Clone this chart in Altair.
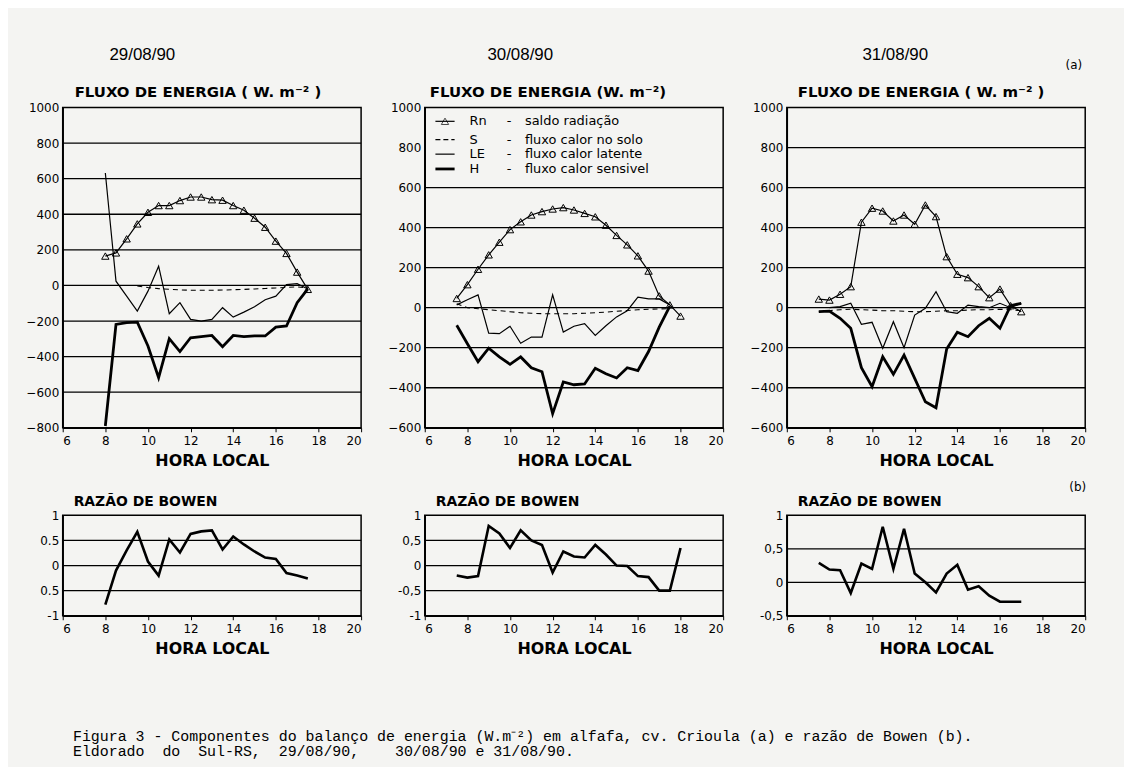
import altair as alt
import pandas as pd

# ---------------- data ----------------
DATES = ["29/08/90", "30/08/90", "31/08/90"]

# 29/08/90
h1_rn = [8.0, 8.5, 9.0, 9.5, 10.0, 10.5, 11.0, 11.5, 12.0, 12.5, 13.0, 13.5, 14.0, 14.5, 15.0, 15.5, 16.0, 16.5, 17.0, 17.5]
rn1 = [165, 183, 262, 346, 411, 449, 449, 477, 497, 497, 482, 479, 449, 423, 378, 327, 249, 180, 75, -22]
h1_s = [9.5, 10.0, 10.5, 11.0, 11.5, 12.0, 12.5, 13.0, 13.5, 14.0, 14.5, 15.0, 15.5, 16.0, 16.5, 17.0, 17.5]
s1 = [-3, -12, -18, -22, -25, -27, -27, -27, -26, -24, -22, -20, -17, -14, -11, -8, -15]
h1_le = [8.0, 8.5, 9.0, 9.5, 10.0, 10.5, 11.0, 11.5, 12.0, 12.5, 13.0, 13.5, 14.0, 14.5, 15.0, 15.5, 16.0, 16.5, 17.0, 17.5]
le1 = [632, 24, -60, -144, -32, 108, -159, -97, -191, -200, -191, -125, -178, -150, -120, -80, -60, 5, 10, -20]
h1_h = [8.0, 8.5, 9.0, 9.5, 10.0, 10.5, 11.0, 11.5, 12.0, 12.5, 13.0, 13.5, 14.0, 14.5, 15.0, 15.5, 16.0, 16.5, 17.0, 17.5]
hh1 = [-790, -219, -209, -206, -340, -518, -299, -372, -294, -288, -281, -344, -281, -288, -284, -284, -234, -228, -97, -19]

# 30/08/90
h2_rn = [7.5, 8.0, 8.5, 9.0, 9.5, 10.0, 10.5, 11.0, 11.5, 12.0, 12.5, 13.0, 13.5, 14.0, 14.5, 15.0, 15.5, 16.0, 16.5, 17.0, 17.5, 18.0]
rn2 = [46, 115, 192, 264, 327, 390, 429, 463, 480, 493, 500, 488, 471, 454, 412, 361, 314, 259, 183, 59, 14, -42]
h2_s = [7.5, 8.0, 8.5, 9.0, 9.5, 10.0, 10.5, 11.0, 11.5, 12.0, 12.5, 13.0, 13.5, 14.0, 14.5, 15.0, 15.5, 16.0, 16.5, 17.0, 17.5]
s2 = [20, 0, -5, -10, -15, -20, -25, -28, -30, -30, -30, -30, -28, -25, -22, -18, -14, -10, -8, -6, -5]
h2_le = [7.5, 8.0, 8.5, 9.0, 9.5, 10.0, 10.5, 11.0, 11.5, 12.0, 12.5, 13.0, 13.5, 14.0, 14.5, 15.0, 15.5, 16.0, 16.5, 17.0, 17.5]
le2 = [14, 40, 64, -127, -130, -93, -178, -147, -147, 64, -122, -93, -80, -139, -90, -46, -15, 53, 44, 44, 14]
h2_h = [7.5, 8.0, 8.5, 9.0, 9.5, 10.0, 10.5, 11.0, 11.5, 12.0, 12.5, 13.0, 13.5, 14.0, 14.5, 15.0, 15.5, 16.0, 16.5, 17.0, 17.5]
hh2 = [-88, -180, -270, -202, -246, -283, -246, -300, -320, -529, -371, -385, -381, -303, -330, -351, -300, -314, -219, -97, 8]

# 31/08/90
h3_rn = [7.5, 8.0, 8.5, 9.0, 9.5, 10.0, 10.5, 11.0, 11.5, 12.0, 12.5, 13.0, 13.5, 14.0, 14.5, 15.0, 15.5, 16.0, 16.5, 17.0]
rn3 = [43, 38, 67, 105, 427, 497, 483, 433, 463, 417, 513, 455, 255, 167, 150, 105, 50, 93, 10, -20]
h3_s = [7.5, 8.0, 8.5, 9.0, 9.5, 10.0, 10.5, 11.0, 11.5, 12.0, 12.5, 13.0, 13.5, 14.0, 14.5, 15.0, 15.5, 16.0, 16.5, 17.0]
s3 = [-20, -15, -10, -8, -10, -12, -15, -15, -18, -20, -20, -18, -15, -15, -12, -10, -10, -8, -10, -15]
h3_le = [8.0, 8.5, 9.0, 9.5, 10.0, 10.5, 11.0, 11.5, 12.0, 12.5, 13.0, 13.5, 14.0, 14.5, 15.0, 15.5, 16.0, 16.5, 17.0]
le3 = [0, 5, 22, -83, -73, -203, -70, -200, -37, -3, 80, -20, -28, 13, 5, 0, 22, 0, 22]
h3_h = [7.5, 8.0, 8.5, 9.0, 9.5, 10.0, 10.5, 11.0, 11.5, 12.0, 12.5, 13.0, 13.5, 14.0, 14.5, 15.0, 15.5, 16.0, 16.5, 17.0]
hh3 = [-20, -17, -53, -103, -300, -395, -245, -333, -237, -353, -470, -500, -207, -123, -145, -90, -53, -103, 10, 22]

# Bowen ratio
b1_h = [8.0, 8.5, 9.0, 9.5, 10.0, 10.5, 11.0, 11.5, 12.0, 12.5, 13.0, 13.5, 14.0, 14.5, 15.0, 15.5, 16.0, 16.5, 17.0, 17.5]
b1 = [-0.78, -0.1, 0.3, 0.67, 0.08, -0.2, 0.52, 0.26, 0.63, 0.68, 0.7, 0.32, 0.58, 0.42, 0.28, 0.16, 0.13, -0.15, -0.2, -0.26]
b2_h = [7.5, 8.0, 8.5, 9.0, 9.5, 10.0, 10.5, 11.0, 11.5, 12.0, 12.5, 13.0, 13.5, 14.0, 14.5, 15.0, 15.5, 16.0, 16.5, 17.0, 17.5, 18.0]
b2 = [-0.2, -0.24, -0.21, 0.79, 0.64, 0.35, 0.7, 0.5, 0.41, -0.14, 0.28, 0.18, 0.16, 0.41, 0.22, 0.0, -0.01, -0.21, -0.23, -0.5, -0.5, 0.35]
b3_h = [7.5, 8.0, 8.5, 9.0, 9.5, 10.0, 10.5, 11.0, 11.5, 12.0, 12.5, 13.0, 13.5, 14.0, 14.5, 15.0, 15.5, 16.0, 16.5, 17.0]
b3 = [0.29, 0.19, 0.18, -0.16, 0.28, 0.2, 0.83, 0.2, 0.8, 0.13, 0.0, -0.15, 0.13, 0.26, -0.11, -0.06, -0.2, -0.29, -0.29, -0.29]

# axes / grid values
X_TICKS = [6, 8, 10, 12, 14, 16, 18, 20]
GRID_TOP = [[800, 600, 400, 200, 0, -200, -400, -600],
            [600, 400, 200, 0, -200, -400],
            [800, 600, 400, 200, 0, -200, -400]]
GRID_BOT = [[0.5, 0, -0.5], [0.5, 0, -0.5], [0.5, 0]]
BOT_LABELS = [["1", "0.5", "0", "0.5", "-1"], ["1", "0,5", "0", "-0,5", "-1"], ["1", "0,5", "0", "-0,5"]]

# legend of the 30/08/90 panel (drawn inside the plot, in data units)
LEG_CODE = ["Rn", "S", "LE", "H"]
LEG_TEXT = ["saldo radiação", "fluxo calor no solo", "fluxo calor latente", "fluxo calor sensivel"]
LEG_Y = [931, 840, 767, 693]

TITLE_TOP = ["FLUXO DE ENERGIA  ( W. m⁻² )", "FLUXO  DE  ENERGIA (W. m⁻²)", "FLUXO DE ENERGIA  ( W. m⁻² )"]
CORNER_TOP = [" ", " ", "(a)"]
CORNER_BOT = [" ", " ", "(b)"]
NB = "\u00a0"
CAPTION = ["Figura 3 - Componentes do balanço de energia (W.m⁻²) em alfafa, cv. Crioula (a) e razão de Bowen (b).",
           (NB + "Eldorado" + NB * 2 + "do" + NB * 2 + "Sul-RS," + NB * 2 + "29/08/90," + NB * 4
            + "30/08/90 e 31/08/90.")]

# ---------------- styling ----------------
BG = "#f4f4f2"
TFONT = "DejaVu Sans"
W, H_TOP, H_BOT = 300, 322, 101


def x_enc(field="hora"):
    return alt.X(f"{field}:Q", scale=alt.Scale(domain=[6, 20], nice=False, zero=False),
                 axis=alt.Axis(values=X_TICKS, title="HORA LOCAL", grid=False, format="d"))


def text_layer(txt, x, y, size, weight="normal", align="left"):
    return alt.Chart(pd.DataFrame({"t": [txt]})).mark_text(
        align=align, baseline="alphabetic", font=TFONT, fontSize=size, fontWeight=weight, color="black"
    ).encode(text="t:N", x=alt.value(x), y=alt.value(y))


def energy_panel(i, rn, s, le, hh, ymin, title_dx, legend):
    def y_enc(field):
        return alt.Y(f"{field}:Q", scale=alt.Scale(domain=[ymin, 1000], nice=False),
                     axis=alt.Axis(values=list(range(ymin, 1001, 200)), title=None, grid=False,
                                   ticks=False, format="d"))

    grid = alt.Chart(pd.DataFrame({"g": GRID_TOP[i]})).mark_rule(color="black", strokeWidth=1.3).encode(
        y=y_enc("g"))

    def series(hs, vs, **kw):
        return alt.Chart(pd.DataFrame({"hora": hs, "valor": vs})).mark_line(color="black", **kw).encode(
            x=x_enc(), y=y_enc("valor"))

    rn_df = pd.DataFrame({"hora": rn[0], "valor": rn[1]})
    layers = [
        grid,
        series(*s, strokeWidth=1.1, strokeDash=[5, 4]),
        series(*le, strokeWidth=1.2),
        series(*hh, strokeWidth=2.8),
        series(*rn, strokeWidth=1.2),
        alt.Chart(rn_df).mark_point(shape="triangle-up", filled=False, color="black", size=55,
                                    strokeWidth=1, opacity=1).encode(x=x_enc(), y=y_enc("valor")),
        text_layer(TITLE_TOP[i], title_dx, -11, 15, "bold"),
        text_layer(CORNER_TOP[i], W - 3, -39, 12, align="right"),
    ]
    if legend:
        leg_df = pd.DataFrame({"x0": [6.5] * 4, "x1": [7.4] * 4, "xm": [6.95] * 4, "xc": [8.1] * 4,
                               "xd": [9.85] * 4, "xt": [10.7] * 4, "y": LEG_Y, "code": LEG_CODE,
                               "txt": LEG_TEXT, "k": [0, 1, 2, 3]})
        base = alt.Chart(leg_df)
        for k, kw in enumerate([dict(strokeWidth=1.2), dict(strokeWidth=1.2, strokeDash=[5, 3]),
                                dict(strokeWidth=1.2), dict(strokeWidth=2.8)]):
            layers.append(base.transform_filter(f"datum.k == {k}").mark_rule(color="black", **kw).encode(
                x=x_enc("x0"), x2="x1", y=y_enc("y")))
        layers.append(base.transform_filter("datum.k == 0").mark_point(
            shape="triangle-up", filled=False, color="black", size=55, strokeWidth=1).encode(
            x=x_enc("xm"), y=y_enc("y")))
        tkw = dict(align="left", baseline="middle", font=TFONT, fontSize=13, color="black")
        layers.append(base.mark_text(**tkw).encode(x=x_enc("xc"), y=y_enc("y"), text="code:N"))
        layers.append(base.mark_text(**tkw).encode(x=x_enc("xd"), y=y_enc("y"), text=alt.value("-")))
        layers.append(base.mark_text(**tkw).encode(x=x_enc("xt"), y=y_enc("y"), text="txt:N"))
    return alt.layer(*layers).properties(width=W, height=H_TOP)


def bowen_panel(i, hs, vs, ymin):
    vals = [v for v in [1, 0.5, 0, -0.5, -1] if v >= ymin]
    expr = " : ".join([f"datum.value == {v} ? '{l}'" for v, l in zip(vals, BOT_LABELS[i])]) + " : datum.label"

    def y_enc(field):
        return alt.Y(f"{field}:Q", scale=alt.Scale(domain=[ymin, 1], nice=False),
                     axis=alt.Axis(values=vals, title=None, grid=False, ticks=False, labelExpr=expr))

    grid = alt.Chart(pd.DataFrame({"g": GRID_BOT[i]})).mark_rule(color="black", strokeWidth=1.3).encode(
        y=y_enc("g"))
    line = alt.Chart(pd.DataFrame({"hora": hs, "razao": vs})).mark_line(
        color="black", strokeWidth=2.6).encode(x=x_enc(), y=y_enc("razao"))
    return alt.layer(
        grid, line,
        text_layer("RAZÃO DE BOWEN", 11, -9, 14, "bold"),
        text_layer(CORNER_BOT[i], W + 1, -24, 12, align="right"),
    ).properties(width=W, height=H_BOT)


tops = [
    energy_panel(0, (h1_rn, rn1), (h1_s, s1), (h1_le, le1), (h1_h, hh1), -800, 12, False),
    energy_panel(1, (h2_rn, rn2), (h2_s, s2), (h2_le, le2), (h2_h, hh2), -600, 5, True),
    energy_panel(2, (h3_rn, rn3), (h3_s, s3), (h3_le, le3), (h3_h, hh3), -600, 11, False),
]
bots = [bowen_panel(0, b1_h, b1, -1), bowen_panel(1, b2_h, b2, -1), bowen_panel(2, b3_h, b3, -0.5)]
date_dx = [-52, -36, -23]

cols = []
for i in range(3):
    cols.append(alt.vconcat(tops[i], bots[i], spacing=11).properties(
        title=alt.TitleParams(DATES[i], anchor="middle", dx=date_dx[i], font="Liberation Sans",
                              fontSize=17, fontWeight="normal", offset=-6)))

chart = alt.hconcat(*cols, spacing=24).properties(
    padding={"left": 17, "top": 36, "right": 37, "bottom": 6},
    title=alt.TitleParams(CAPTION, orient="bottom", anchor="start", frame="bounds", dx=48, offset=72,
                          font="Liberation Mono", fontSize=15, fontWeight="normal", lineHeight=15),
).configure(background=BG).configure_view(
    stroke="black", strokeWidth=1.5
).configure_axis(
    domainColor="black", domainWidth=1.5, labelColor="black", labelFont=TFONT, labelFontSize=12,
    tickColor="black", tickSize=4, titleColor="black", titleFont=TFONT, titleFontSize=16,
    titleFontWeight="bold", labelPadding=4, titlePadding=6
).configure_title(color="black")

chart.save("out.html", embed_options={"renderer": "svg", "actions": False})
